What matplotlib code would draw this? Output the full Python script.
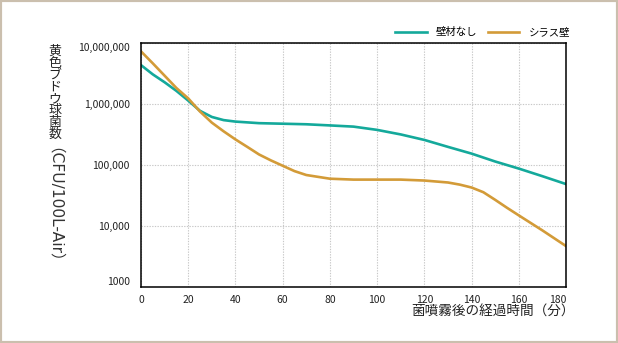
import matplotlib
matplotlib.use("Agg")
import matplotlib.pyplot as plt
from matplotlib.patches import Rectangle

plt.rcParams['font.family'] = ['Noto Sans CJK JP', 'DejaVu Sans']

no_wall_min = [0, 5, 10, 15, 20, 25, 30, 35, 40, 50, 60, 70, 80, 90, 100, 110, 120,
               130, 140, 150, 160, 170, 180]
no_wall = [4.4e6, 3.1e6, 2.3e6, 1.66e6, 1.15e6, 7.8e5, 6.2e5, 5.5e5, 5.2e5, 4.9e5, 4.8e5,
           4.7e5, 4.5e5, 4.3e5, 3.8e5, 3.2e5, 2.6e5, 2.0e5, 1.55e5, 1.15e5, 8.8e4, 6.6e4, 4.9e4]
shirasu_min = [0, 5, 10, 15, 20, 25, 30, 35, 40, 45, 50, 55, 60, 65, 70, 80, 90, 100, 110,
               120, 130, 135, 140, 145, 150, 155, 160, 170, 180]
shirasu = [7.4e6, 4.7e6, 2.95e6, 1.85e6, 1.25e6, 7.6e5, 5.0e5, 3.6e5, 2.65e5, 2.0e5, 1.5e5,
           1.2e5, 9.8e4, 8.0e4, 6.9e4, 6.0e4, 5.8e4, 5.8e4, 5.8e4, 5.6e4, 5.2e4, 4.8e4, 4.3e4,
           3.6e4, 2.7e4, 2.0e4, 1.5e4, 8.5e3, 4.7e3]
series_names = ['壁材なし', 'シラス壁']
x_ticks = [0, 20, 40, 60, 80, 100, 120, 140, 160, 180]
y_ticks = [1e3, 1e4, 1e5, 1e6, 1e7]
y_tick_labels = ['1000', '10,000', '100,000', '1,000,000', '10,000,000']
ylabel_cjk = '黄色ブドウ球菌数'
ylabel_latin = '（CFU/100L-Air）'
xlabel = '菌噴霧後の経過時間（分）'

TEAL = '#14a99b'
ORANGE = '#d39b38'

fig = plt.figure(figsize=(6.18, 3.43), dpi=100)
fig.patch.set_facecolor('white')
ax = fig.add_axes([141/618, 1-287/343, (566-141)/618, (287-43.4)/343])

ax.plot(no_wall_min, no_wall, color=TEAL, lw=1.9, label=series_names[0],
        solid_joinstyle='round')
ax.plot(shirasu_min, shirasu, color=ORANGE, lw=1.9, label=series_names[1],
        solid_joinstyle='round')

ax.set_yscale('log')
ax.set_xlim(0, 180)
ax.set_ylim(1e3, 1e7)
ax.set_xticks(x_ticks)
ax.set_xticklabels([str(v) for v in x_ticks])
ax.set_yticks(y_ticks)
ax.set_yticklabels(y_tick_labels)
ax.yaxis.set_minor_locator(matplotlib.ticker.NullLocator())
ax.tick_params(axis='both', length=0, labelsize=7.5, colors='#222222')
ax.tick_params(axis='x', pad=6)
ax.tick_params(axis='y', pad=8)
ylabs = ax.get_yticklabels()
ylabs[0].set_va('bottom')
ylabs[-1].set_va('top')
xlabs = ax.get_xticklabels()
xlabs[-1].set_ha('right')

ax.grid(True, which='major', color='#c8c8c8', linestyle=(0, (1.2, 1.2)), linewidth=0.8)
for s in ax.spines.values():
    s.set_linewidth(1.1)
    s.set_color('black')

# vertical-style y label: upright CJK chars stacked (one text), latin part rotated
fig.text(55/618, 1-45/343, '\n'.join(ylabel_cjk), ha='center', va='top', fontsize=9.3,
         linespacing=0.88, color='#222222', multialignment='center')
fig.text(46/618, 1-147/343, ylabel_latin, rotation=-90, ha='center', va='top',
         fontsize=11.2, color='#333333', family=['DejaVu Sans', 'Noto Sans CJK JP'])

fig.text(575/618, 1-312/343, xlabel, ha='right', va='center', fontsize=9.8, color='#222222')

ax.legend(loc='lower right', bbox_to_anchor=(1.024, 1.0), ncol=2, frameon=False,
          fontsize=7.5, handlelength=3.0, handletextpad=0.9, columnspacing=1.0,
          borderaxespad=0.2)

fig.add_artist(Rectangle((0, 0), 1, 1, transform=fig.transFigure, fill=False,
                         edgecolor='#cbbfae', lw=3))

fig.savefig('out.png', dpi=100, facecolor='white')
